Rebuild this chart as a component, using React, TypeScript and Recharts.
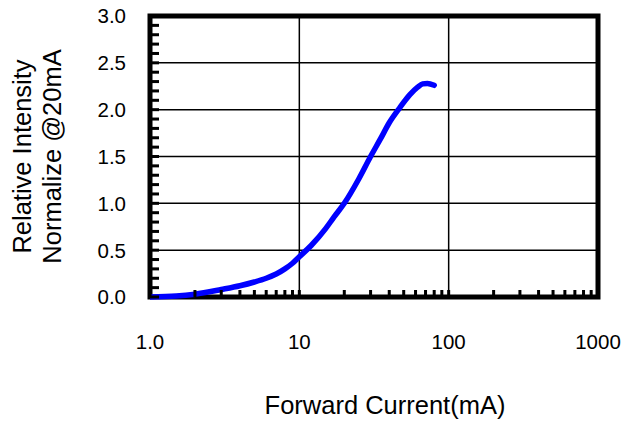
import React from "react";
import {
  CartesianGrid,
  Label,
  Line,
  LineChart,
  ReferenceArea,
  XAxis,
  YAxis,
} from "recharts";

const currents = [1, 1.5, 2, 3, 4, 5, 6, 7, 8, 9, 10, 12, 15, 17, 20, 25, 30, 35, 40, 47, 55, 62, 67, 72, 80];
const intensity = [0, 0.01, 0.03, 0.08, 0.12, 0.16, 0.2, 0.245, 0.3, 0.36, 0.43, 0.55, 0.73, 0.85, 1.0, 1.26, 1.5, 1.69, 1.86, 2.02, 2.16, 2.24, 2.275, 2.28, 2.26];

const xMajor = [1, 10, 100, 1000];
const xMinor = [1, 2, 3, 4, 5, 6, 7, 8, 9, 10, 20, 30, 40, 50, 60, 70, 80, 90, 100, 200, 300, 400, 500, 600, 700, 800, 900, 1000];
const yMinor = Array.from({ length: 31 }, (_, i) => i / 10);

const data = currents.map((c, i) => ({ current: c, intensity: intensity[i] }));

const FONT = "'Liberation Sans', Arial, sans-serif";
const X_MARGIN = 37;
const Y_MARGIN = 24;

const XTick = (props: any) => {
  const { x, y, payload } = props;
  const axisY = y - X_MARGIN;
  const v = payload.value;
  const major = xMajor.includes(v);
  return (
    <g>
      <rect x={x - 1.5} y={axisY - 7} width={3} height={7} fill="#000" />
      {major && (
        <text x={x} y={y} dy="0.71em" textAnchor="middle" fontSize={20.5} fontFamily={FONT} fill="#000">
          {v === 1 ? "1.0" : String(v)}
        </text>
      )}
    </g>
  );
};

const YTick = (props: any) => {
  const { x, y, payload } = props;
  const axisX = x + Y_MARGIN;
  const v = payload.value;
  const major = Math.abs(v * 2 - Math.round(v * 2)) < 1e-6;
  return (
    <g>
      <rect x={axisX} y={y - 1.5} width={9} height={3} fill="#000" />
      {major && (
        <text x={x} y={y} dy="0.36em" textAnchor="end" fontSize={20.5} fontFamily={FONT} fill="#000">
          {v.toFixed(1)}
        </text>
      )}
    </g>
  );
};

const YTitle = (props: any) => {
  const vb = props.viewBox;
  const cy = vb.y + vb.height / 2;
  return (
    <g fontFamily={FONT} fontSize={25.5} fill="#000">
      <text x={31} y={cy} textAnchor="middle" transform={`rotate(-90 31 ${cy})`}>
        Relative Intensity
      </text>
      <text x={61} y={cy} textAnchor="middle" transform={`rotate(-90 61 ${cy})`}>
        Normalize @20mA
      </text>
    </g>
  );
};

const XTitle = (props: any) => {
  const vb = props.viewBox;
  const cx = vb.x + vb.width / 2 + 11;
  return (
    <text x={cx} y={414} textAnchor="middle" fontFamily={FONT} fontSize={25.5} fill="#000">
      Forward Current(mA)
    </text>
  );
};

export default function App() {
  return (
    <div style={{ position: "absolute", left: 0, top: 0, background: "#fff" }}>
      <LineChart
        width={641}
        height={423}
        data={data}
        margin={{ top: 16, right: 43, bottom: 0, left: 0 }}
      >
        <CartesianGrid
          stroke="#000"
          strokeWidth={1.5}
          verticalValues={[10, 100]}
          horizontalValues={[0.5, 1, 1.5, 2, 2.5]}
        />
        <XAxis
          dataKey="current"
          type="number"
          scale="log"
          domain={[1, 1000]}
          ticks={xMinor}
          interval={0}
          allowDataOverflow
          axisLine={false}
          tickLine={false}
          tickSize={0}
          tickMargin={X_MARGIN}
          tick={<XTick />}
          height={126}
        >
          <Label content={<XTitle />} />
        </XAxis>
        <YAxis
          type="number"
          domain={[0, 3]}
          ticks={yMinor}
          interval={0}
          axisLine={false}
          tickLine={false}
          tickSize={0}
          tickMargin={Y_MARGIN}
          tick={<YTick />}
          width={150}
        >
          <Label content={<YTitle />} />
        </YAxis>
        <ReferenceArea x1={1} x2={1000} y1={0} y2={3} fill="none" stroke="#000" strokeWidth={5} />
        <Line
          type="monotone"
          dataKey="intensity"
          stroke="#0000ff"
          strokeWidth={5.5}
          strokeLinecap="round"
          dot={false}
          isAnimationActive={false}
        />
      </LineChart>
    </div>
  );
}
